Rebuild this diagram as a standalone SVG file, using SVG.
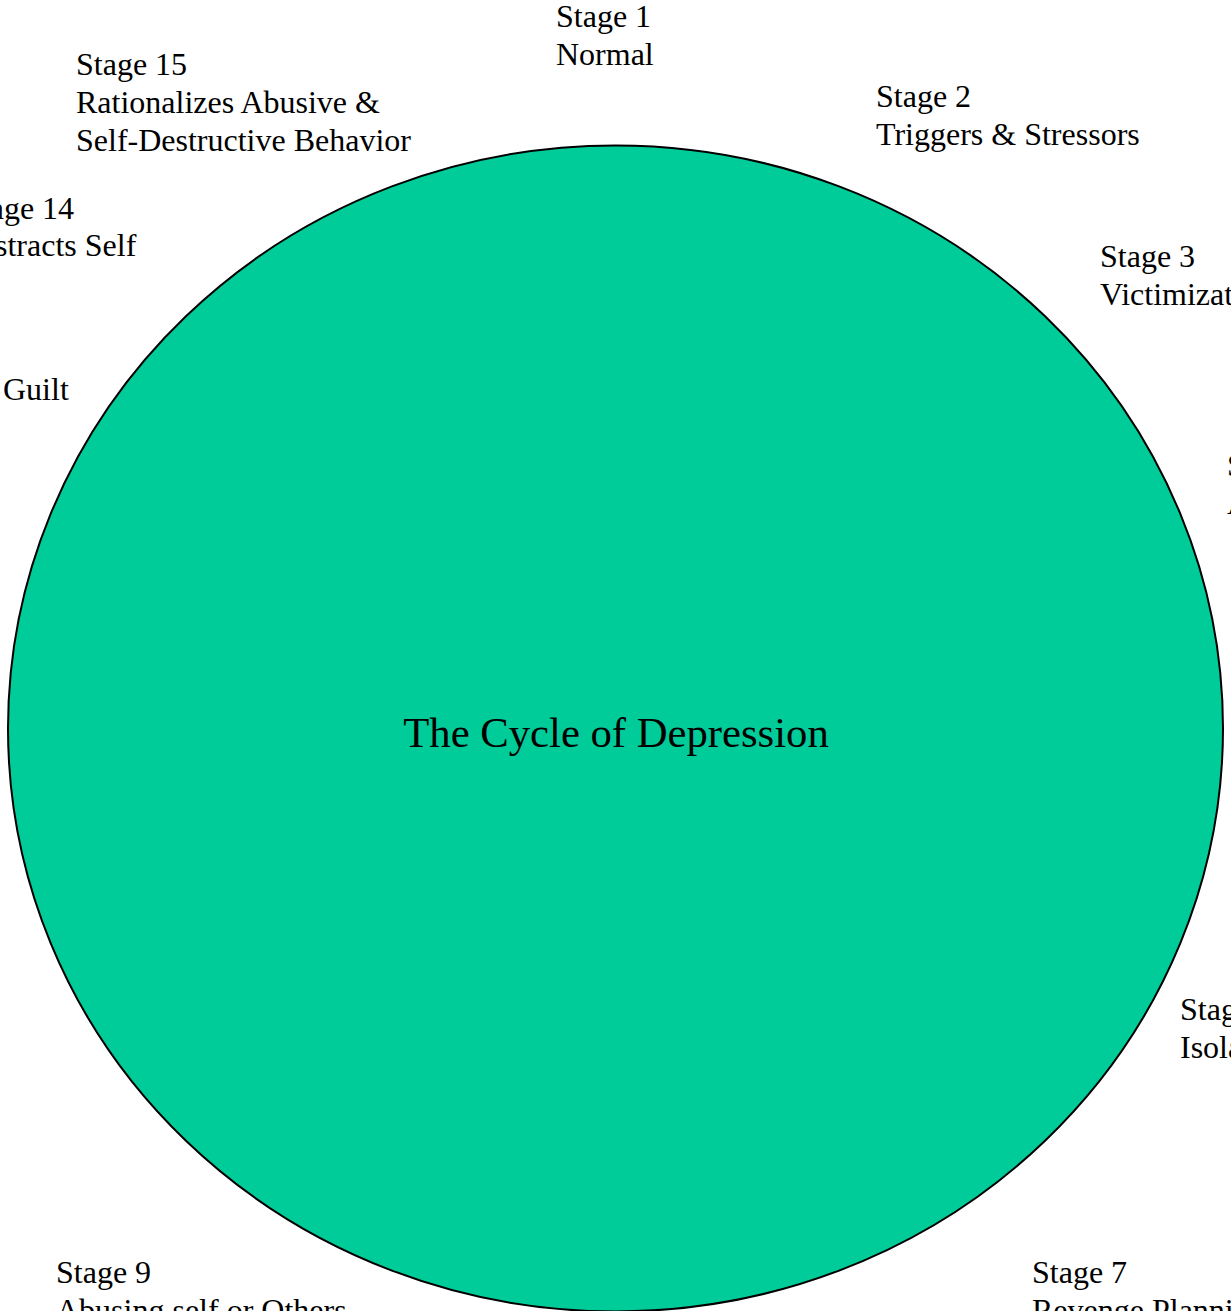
<svg xmlns="http://www.w3.org/2000/svg" width="1231" height="1311" viewBox="0 0 1231 1311">
<style>
.lbl{font-family:"Liberation Serif","Times New Roman",serif;font-size:32px;fill:#000}
.title{font-family:"Liberation Serif","Times New Roman",serif;font-size:42.7px;fill:#000;text-anchor:middle}
</style>
<rect x="0" y="0" width="1231" height="1311" fill="#ffffff"/>
<g id="cycle">
<ellipse cx="615.5" cy="728.5" rx="607.5" ry="583" fill="#00CC99" stroke="#000" stroke-width="2"/>
<text class="title" x="616" y="747">The Cycle of Depression</text>
</g>
<g id="connectors"></g>
<g id="stage1"><text class="lbl" x="556" y="27">Stage 1</text><text class="lbl" x="556" y="65">Normal</text></g>
<g id="stage2"><text class="lbl" x="876" y="107">Stage 2</text><text class="lbl" x="876" y="145">Triggers &amp; Stressors</text></g>
<g id="stage3"><text class="lbl" x="1100" y="267">Stage 3</text><text class="lbl" x="1100" y="305">Victimization</text></g>
<g id="stage4"><text class="lbl" x="1227" y="476">Stage 4</text><text class="lbl" x="1227" y="514">Anger</text></g>
<g id="stage6"><text class="lbl" x="1180" y="1020">Stage 6</text><text class="lbl" x="1180" y="1058">Isolation</text></g>
<g id="stage7"><text class="lbl" x="1032" y="1283">Stage 7</text><text class="lbl" x="1032" y="1321">Revenge Planning</text></g>
<g id="stage9"><text class="lbl" x="56" y="1283">Stage 9</text><text class="lbl" x="56" y="1321">Abusing self or Others</text></g>
<g id="stage13"><text class="lbl" x="3" y="400">Guilt</text></g>
<g id="stage14"><text class="lbl" x="-37" y="219">Stage 14</text><text class="lbl" x="-37" y="256">Distracts Self</text></g>
<g id="stage15"><text class="lbl" x="76" y="75">Stage 15</text><text class="lbl" x="76" y="113">Rationalizes Abusive &amp;</text><text class="lbl" x="76" y="151">Self-Destructive Behavior</text></g>
</svg>
